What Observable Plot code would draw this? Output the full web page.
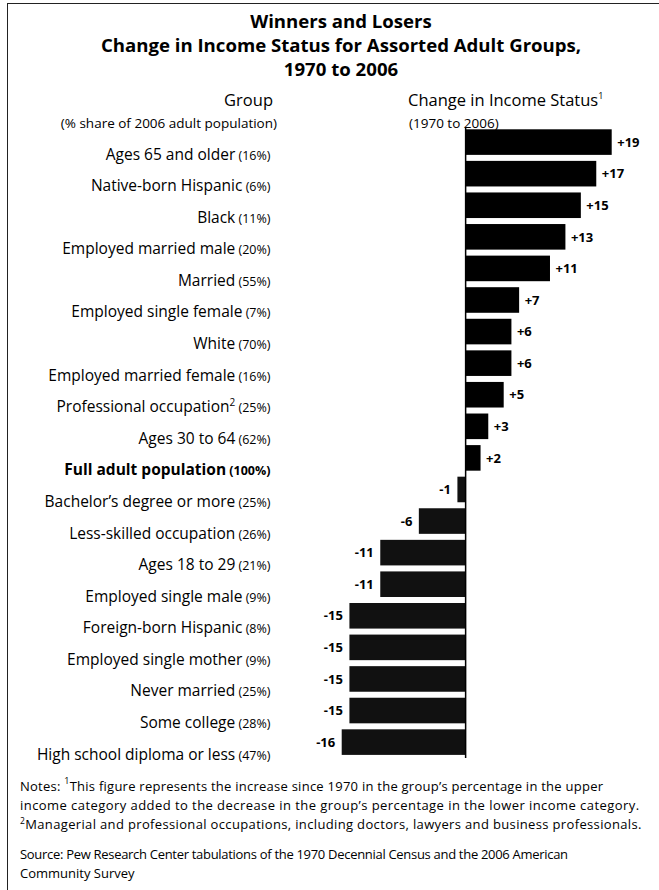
<!DOCTYPE html>
<html>
<head>
<meta charset="utf-8">
<script src="https://cdn.jsdelivr.net/npm/d3@7"></script>
<script src="https://cdn.jsdelivr.net/npm/@observablehq/plot@0.6"></script>
<style>
  html, body { margin: 0; padding: 0; background: #fff; width: 659px; height: 890px; overflow: hidden; }
  body { position: relative; font-family: "Open Sans", sans-serif; color: #000; }
  #frame { position: absolute; left: 7px; top: 3px; width: 720px; height: 920px;
           border-left: 1.5px solid #222; border-top: 1.5px solid #222; }
  .abs { position: absolute; white-space: nowrap; }
  #title { left: 0; width: 682px; top: 9px; text-align: center; font-weight: bold;
           font-size: 18.6px; line-height: 24px; }
  #hGroup { right: 386px; top: 90px; font-size: 16.5px; line-height: 20px; }
  #hGroupSub { right: 382px; top: 115px; font-size: 13.5px; line-height: 16px; }
  #hChange { left: 408px; top: 90px; font-size: 16.5px; line-height: 20px; }
  #hChangeSub { left: 409px; top: 115px; font-size: 13.5px; line-height: 16px; }
  sup { font-size: 9px; vertical-align: 7px; line-height: 0; }
  #chart { position: absolute; left: 0; top: 120px; }
  #notes { left: 20px; top: 777px; font-size: 13px; line-height: 19px; }
  #notes .l1 { letter-spacing: 0.25px; }
  #notes .l2 { letter-spacing: 0.44px; }
  #notes .l3 { letter-spacing: 0.35px; }
  #notes .l3 sup { vertical-align: 5px; font-size: 8.5px; }
  #source { left: 20px; top: 845px; font-size: 13px; line-height: 19px; }
  #source .l1 { letter-spacing: -0.3px; }
</style>
</head>
<body>
<div id="frame"></div>
<div id="title" class="abs">Winners and Losers<br>Change in Income Status for Assorted Adult Groups,<br>1970 to 2006</div>
<div id="hGroup" class="abs">Group</div>
<div id="hGroupSub" class="abs">(% share of 2006 adult population)</div>
<div id="hChange" class="abs">Change in Income Status<sup>1</sup></div>
<div id="hChangeSub" class="abs">(1970 to 2006)</div>
<div id="chart"></div>
<div id="notes" class="abs"><span class="l1">Notes: <sup>1</sup>This figure represents the increase since 1970 in the group’s percentage in the upper</span><br><span class="l2">income category added to the decrease in the group’s percentage in the lower income category.</span><br><span class="l3"><sup>2</sup>Managerial and professional occupations, including doctors, lawyers and business professionals.</span></div>
<div id="source" class="abs"><span class="l1">Source: Pew Research Center tabulations of the 1970 Decennial Census and the 2006 American</span><br>Community Survey</div>
<script>
const groups = [
  "Ages 65 and older", "Native-born Hispanic", "Black", "Employed married male", "Married",
  "Employed single female", "White", "Employed married female", "Professional occupation",
  "Ages 30 to 64", "Full adult population", "Bachelor’s degree or more", "Less-skilled occupation",
  "Ages 18 to 29", "Employed single male", "Foreign-born Hispanic", "Employed single mother",
  "Never married", "Some college", "High school diploma or less"
];
const shares = [16, 6, 11, 20, 55, 7, 70, 16, 25, 62, 100, 25, 26, 21, 9, 8, 9, 25, 28, 47];
const changes = [19, 17, 15, 13, 11, 7, 6, 6, 5, 3, 2, -1, -6, -11, -11, -15, -15, -15, -15, -16];
const footnoteOf = {"Professional occupation": "2"};
const totalGroup = "Full adult population";

const data = groups.map((g, i) => ({group: g, share: shares[i], change: changes[i]}));
const fmt = v => (v > 0 ? "+" : "") + v;

const chart = Plot.plot({
  width: 659,
  height: 650,
  marginTop: 7,
  marginBottom: 12,
  marginLeft: 270,
  marginRight: 0,
  style: {fontFamily: "'Open Sans', sans-serif", fontSize: "15.5px", color: "#000", background: "transparent", overflow: "visible"},
  x: {domain: [-16, 19], range: [341.7, 611.7], axis: null},
  y: {domain: groups, range: [3.3, 640.9], padding: 0.19, round: false, label: null, tickSize: 0, tickPadding: 0},
  marks: [
    Plot.barX(data, {x: "change", y: "group", fill: d => d.change > 0 ? "#000" : "#111"}),
    Plot.ruleX([0], {stroke: "#000", strokeWidth: 1.5}),
    Plot.text(data, {filter: d => d.change > 0, x: "change", y: "group", text: d => fmt(d.change),
      textAnchor: "start", dx: 5, fontWeight: "bold", fontSize: 13}),
    Plot.text(data, {filter: d => d.change < 0, x: "change", y: "group", text: d => fmt(d.change),
      textAnchor: "end", dx: -7, fontWeight: "bold", fontSize: 13})
  ]
});
document.getElementById("chart").appendChild(chart);

// Style the group labels: name, optional footnote mark, and smaller share in parentheses
const byName = new Map(data.map(d => [d.group, d]));
d3.select(chart).selectAll("text").each(function() {
  const el = d3.select(this);
  const name = this.textContent;
  if (!byName.has(name)) return;
  const d = byName.get(name);
  const t = el.attr("transform");
  el.attr("transform", (t ? t + " " : "") + "translate(0,12)");
  el.text(null).attr("font-size", 15.5).attr("text-anchor", "end");
  if (name === totalGroup) el.attr("font-weight", "bold");
  el.append("tspan").text(name);
  if (footnoteOf[name]) {
    el.append("tspan").attr("font-size", 10).attr("dy", -6).text(footnoteOf[name]);
    el.append("tspan").attr("font-size", 12.5).attr("dy", 6).text(" (" + d.share + "%)");
  } else {
    el.append("tspan").attr("font-size", 12.5).text(" (" + d.share + "%)");
  }
});
</script>
</body>
</html>
